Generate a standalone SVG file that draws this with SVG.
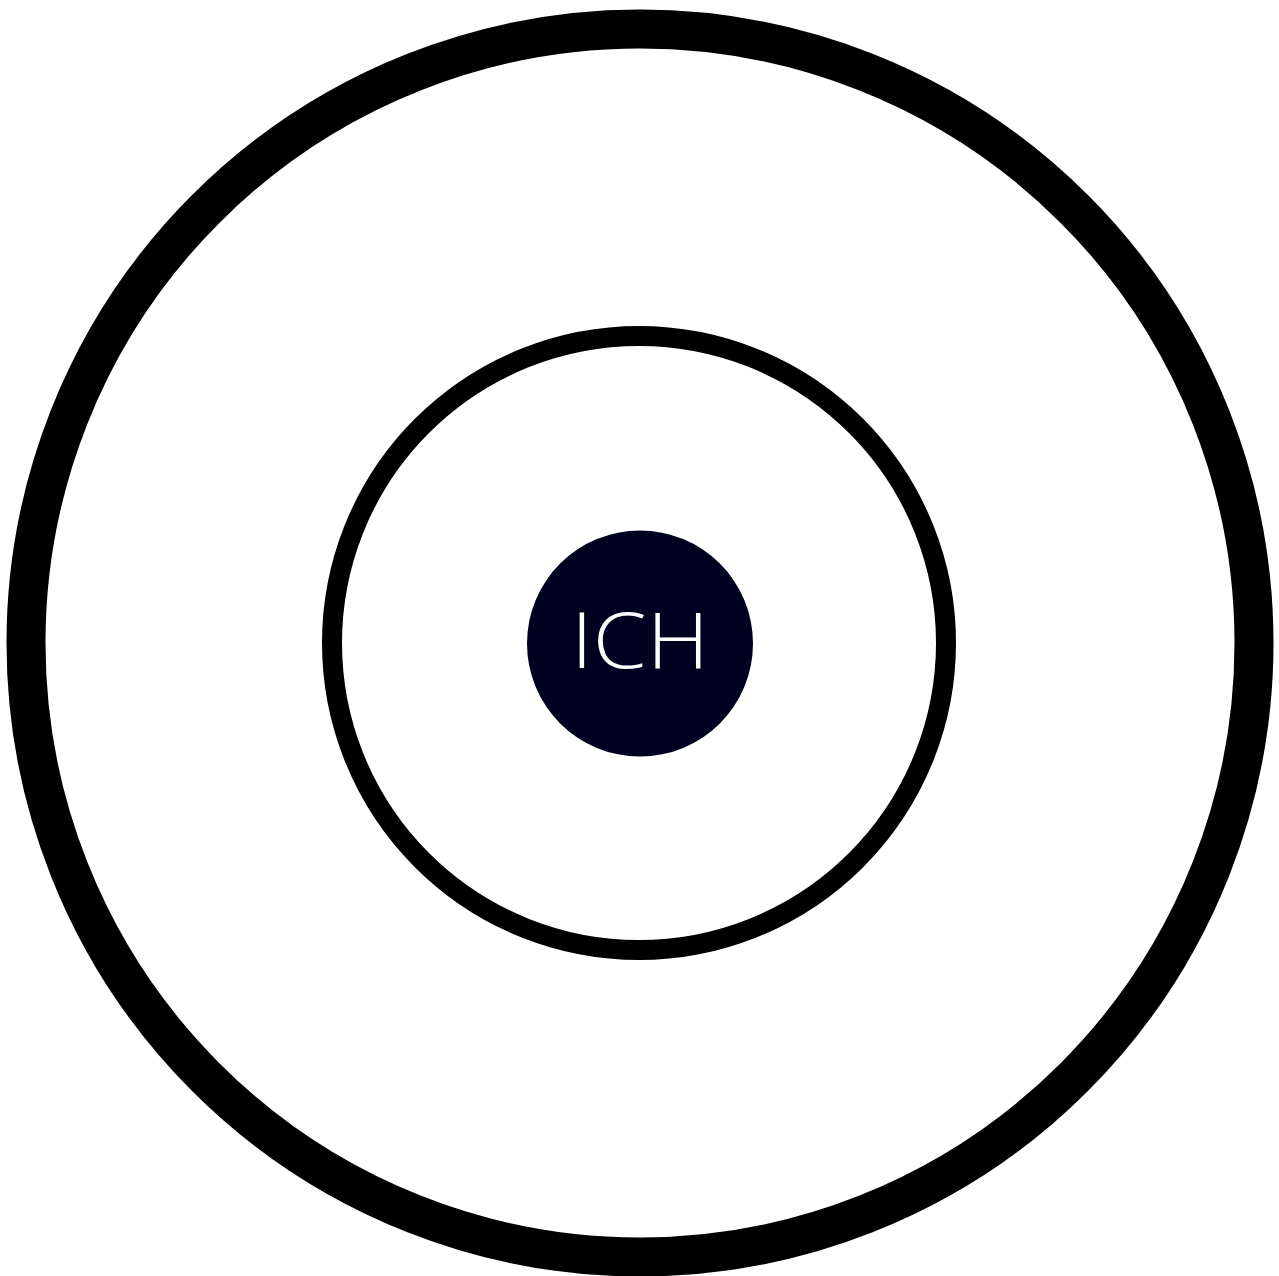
<svg xmlns="http://www.w3.org/2000/svg" width="1279" height="1276" viewBox="0 0 1279 1276">
<style>
.ring{fill:none;stroke:#000000}
.label{font-family:"Open Sans","Liberation Sans",sans-serif;font-weight:300;fill:#ffffff}
</style>
<rect width="1279" height="1276" fill="#ffffff"/>
<g id="outer-ring"><circle class="ring" cx="640" cy="643" r="614" stroke-width="39"/></g>
<g id="middle-ring"><circle class="ring" cx="639" cy="643" r="307" stroke-width="20"/></g>
<g id="core"><circle cx="640" cy="643.5" r="113" fill="#000020"/>
<text class="label" x="640" y="668" font-size="78" text-anchor="middle" textLength="138" lengthAdjust="spacingAndGlyphs">ICH</text></g>
<g id="connectors"/>
</svg>
